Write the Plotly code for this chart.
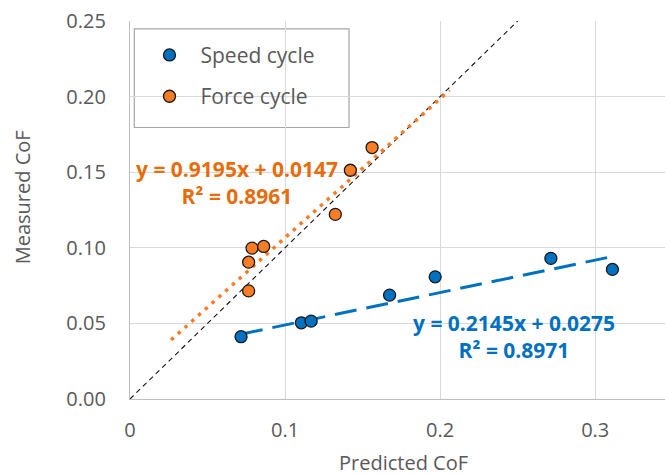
import numpy as np
import plotly.graph_objects as go

# ---- data ----
speed_pred = [0.0716, 0.1105, 0.1168, 0.1674, 0.1968, 0.2714, 0.3111]
speed_meas = [0.0412, 0.0504, 0.0515, 0.0687, 0.0808, 0.0930, 0.0857]
force_pred = [0.0765, 0.0765, 0.0787, 0.0862, 0.1324, 0.1421, 0.1561]
force_meas = [0.0715, 0.0905, 0.0998, 0.1009, 0.1221, 0.1513, 0.1663]

speed_fit = (0.2145, 0.0275, 0.8971)
force_fit = (0.9195, 0.0147, 0.8961)
force_forecast = 0.05

x_ticks = [0, 0.1, 0.2, 0.3]
x_tick_text = ["0", "0.1", "0.2", "0.3"]
y_ticks = [0, 0.05, 0.10, 0.15, 0.20, 0.25]
y_tick_text = ["0.00", "0.05", "0.10", "0.15", "0.20", "0.25"]

BLUE = "#0070C0"
ORANGE = "#FA7D25"
ORANGE_TXT = "#E66C0C"
GRAY_TXT = "#595959"
FONT = "Open Sans"

fig = go.Figure()

# 1:1 reference line
fig.add_trace(go.Scatter(x=[0, 0.25], y=[0, 0.25], mode="lines",
                         line=dict(color="#111111", width=1.1, dash="5px,4px"),
                         showlegend=False, hoverinfo="skip"))

# trend lines
fx = np.array([min(force_pred) - force_forecast, max(force_pred) + force_forecast])
fig.add_trace(go.Scatter(x=fx, y=force_fit[0] * fx + force_fit[1], mode="lines",
                         line=dict(color=ORANGE, width=3.5, dash="3.5px,5.6px"),
                         showlegend=False, hoverinfo="skip"))
sx = np.array([min(speed_pred), max(speed_pred)])
fig.add_trace(go.Scatter(x=sx, y=speed_fit[0] * sx + speed_fit[1], mode="lines",
                         line=dict(color=BLUE, width=3, dash="22px,10px"),
                         showlegend=False, hoverinfo="skip"))

# points
fig.add_trace(go.Scatter(x=speed_pred, y=speed_meas, mode="markers", name="Speed cycle",
                         legendgroup="a",
                         marker=dict(color=BLUE, size=12, line=dict(color="#1a1a1a", width=1.3))))
fig.add_trace(go.Scatter(x=force_pred, y=force_meas, mode="markers", name="Force cycle",
                         legendgroup="b",
                         marker=dict(color=ORANGE, size=12, line=dict(color="#1a1a1a", width=1.3))))

L, T, B = 129.5, 20.7, 76
W, H = 665, 475
pw = W - L
ph = H - T - B
xmax = 0.345

def px_x(p):
    return (p - L) / pw

def px_y(p):
    return (H - B - p) / ph

# legend box
fig.add_shape(type="rect", xref="paper", yref="paper",
              x0=px_x(133.8), x1=px_x(348.7), y0=px_y(127.3), y1=px_y(28.5),
              line=dict(color="#A6A6A6", width=1.2), fillcolor="white", layer="below")

annos = [
    dict(x=px_x(236.5), y=px_y(182), xref="paper", yref="paper",
         text="y = %.4fx + %.4f<br>R² = %.4f" % force_fit,
         font=dict(family=FONT, size=21, color=ORANGE_TXT, weight="bold"),
         showarrow=False, align="center", xanchor="center", yanchor="middle"),
    dict(x=px_x(514), y=px_y(336.5), xref="paper", yref="paper",
         text="y = %.4fx + %.4f<br>R² = %.4f" % speed_fit,
         font=dict(family=FONT, size=21, color=BLUE, weight="bold"),
         showarrow=False, align="center", xanchor="center", yanchor="middle"),
    dict(x=-(L - 21.5) / pw, y=px_y(197), xref="paper", yref="paper",
         text="Measured CoF", textangle=-90,
         font=dict(family=FONT, size=20, color=GRAY_TXT),
         showarrow=False, xanchor="center", yanchor="middle"),
    dict(x=px_x(403), y=px_y(463), xref="paper", yref="paper",
         text="Predicted CoF",
         font=dict(family=FONT, size=20, color=GRAY_TXT),
         showarrow=False, xanchor="center", yanchor="middle"),
]

fig.update_layout(
    width=W, height=H,
    margin=dict(l=L, r=0, t=T, b=B),
    paper_bgcolor="white", plot_bgcolor="white",
    font=dict(family=FONT, size=20, color=GRAY_TXT),
    annotations=annos,
    showlegend=True,
    legend=dict(x=px_x(138), y=px_y(34.5), xanchor="left", yanchor="top",
                bgcolor="rgba(0,0,0,0)", borderwidth=0,
                font=dict(family=FONT, size=21, color=GRAY_TXT),
                tracegroupgap=11, itemwidth=52),
)
fig.update_xaxes(range=[0, xmax], tickvals=x_ticks, ticktext=x_tick_text,
                 showgrid=True, gridcolor="#D9D9D9", gridwidth=1,
                 showline=True, linecolor="#BFBFBF", linewidth=1.3,
                 zeroline=False, ticks="outside", ticklen=13, tickcolor="rgba(0,0,0,0)",
                 tickfont=dict(family=FONT, size=20, color=GRAY_TXT))
fig.update_yaxes(range=[0, 0.25], tickvals=y_ticks, ticktext=y_tick_text,
                 showgrid=True, gridcolor="#D9D9D9", gridwidth=1,
                 showline=True, linecolor="#BFBFBF", linewidth=1.3,
                 zeroline=False, ticks="outside", ticklen=19, tickcolor="rgba(0,0,0,0)",
                 tickfont=dict(family=FONT, size=20, color=GRAY_TXT))

fig.write_html("out.html")
